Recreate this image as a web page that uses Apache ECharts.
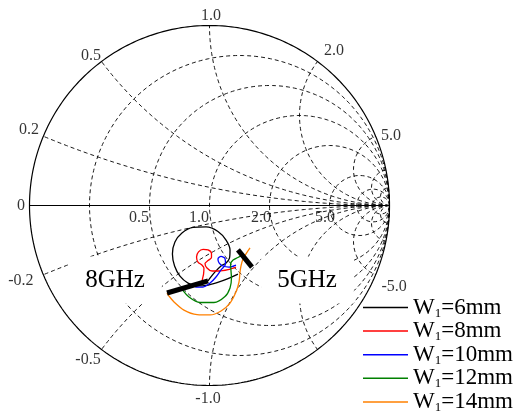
<!DOCTYPE html>
<html><head><meta charset="utf-8">
<script src="https://cdn.jsdelivr.net/npm/echarts@6/dist/echarts.min.js"></script>
<style>html,body{margin:0;padding:0;background:#fff}#c{width:515px;height:414px}</style>
</head><body><div id="c"></div>
<script>
// ---- data (reflection coefficient, [Re, Im]) ----
const widthsMm = [6, 8, 10, 12, 14];
const traceColors = ['#000000', '#ff0000', '#0000ff', '#008000', '#ff8000'];
const resistanceCircles = [0.2, 0.5, 1, 2, 5, 10, 20];
const reactanceArcs = [0.2, 0.5, 1, 2, 5, 10, 20];
const resistanceLabelValues = [0.5, 1, 2, 5];
const resistanceLabelTexts = ['0.5', '1.0', '2.0', '5.0'];
const reactanceLabelValues = [0.2, 0.5, 1, 2, 5, -0.2, -0.5, -1, -5];
const reactanceLabelTexts = ['0.2', '0.5', '1.0', '2.0', '5.0', '-0.2', '-0.5', '-1.0', '-5.0'];

const trace6mm = [[0.158,-0.381],[0.103,-0.406],[0.042,-0.428],[-0.019,-0.444],[-0.069,-0.447],[-0.119,-0.431],[-0.164,-0.392],[-0.194,-0.336],[-0.206,-0.269],[-0.192,-0.203],[-0.153,-0.153],[-0.092,-0.122],[-0.019,-0.119],[0.047,-0.144],[0.092,-0.192],[0.114,-0.247],[0.111,-0.292],[0.092,-0.319],[0.064,-0.336],[0.031,-0.369],[0.008,-0.397],[-0.008,-0.419]];
const trace8mm = [[0.147,-0.342],[0.103,-0.356],[0.053,-0.364],[0.014,-0.364],[-0.014,-0.347],[-0.025,-0.322],[-0.008,-0.306],[0.011,-0.289],[0.011,-0.267],[-0.008,-0.247],[-0.036,-0.244],[-0.061,-0.258],[-0.072,-0.286],[-0.064,-0.314],[-0.042,-0.331],[-0.031,-0.347],[-0.033,-0.381],[-0.039,-0.408],[-0.042,-0.431]];
const trace10mm = [[0.147,-0.331],[0.108,-0.342],[0.075,-0.336],[0.053,-0.319],[0.047,-0.297],[0.064,-0.283],[0.086,-0.294],[0.089,-0.325],[0.064,-0.358],[0.036,-0.397],[0.003,-0.431],[-0.036,-0.453],[-0.075,-0.453],[-0.092,-0.442]];
const trace12mm = [[0.192,-0.269],[0.158,-0.289],[0.131,-0.303],[0.117,-0.325],[0.119,-0.358],[0.122,-0.403],[0.114,-0.458],[0.086,-0.506],[0.025,-0.539],[-0.053,-0.539],[-0.114,-0.508],[-0.153,-0.464]];
const trace14mm = [[0.225,-0.236],[0.203,-0.269],[0.186,-0.297],[0.175,-0.336],[0.169,-0.375],[0.164,-0.425],[0.147,-0.481],[0.114,-0.542],[0.064,-0.586],[0.003,-0.608],[-0.069,-0.606],[-0.142,-0.581],[-0.197,-0.536],[-0.225,-0.503],[-0.236,-0.486]];
const traces = [trace6mm, trace8mm, trace10mm, trace12mm, trace14mm];
const marker8GHz = [[-0.236,-0.486],[-0.008,-0.419]];
const marker5GHz = [[0.158,-0.247],[0.236,-0.342]];

// ---- layout (label offsets in px) ----
const resistanceLabelOffsets = [[-10.5,12],[-10.5,12],[-8.5,12],[-4.5,12]];
const reactanceLabelOffsets = [[-14.4,-6.2],[-10.5,-5.5],[1.5,-9.5],[16.5,-10.5],[15.4,0],[-22.4,6.2],[-13.5,10.5],[-1.5,13.5],[18.4,12.2]];
const FONT = '"Liberation Serif", "Times New Roman", serif';

function resCircle(r) {
  const c = r / (1 + r), rho = 1 / (1 + r), pts = [];
  for (let i = 0; i <= 240; i++) { const t = 2 * Math.PI * i / 240; pts.push([c + rho * Math.cos(t), rho * Math.sin(t)]); }
  return pts;
}
function reactArc(x) {
  const ax = Math.abs(x), s = Math.sign(x);
  const a0 = -Math.PI / 2;
  let a1 = Math.atan2(ax * ax - 1, -2 * ax);
  if (a1 > a0) a1 -= 2 * Math.PI;
  const pts = [], n = 200;
  for (let i = 0; i <= n; i++) {
    const t = a0 + (a1 - a0) * i / n;
    pts.push([1 + Math.cos(t) / ax, s * (1 / ax + Math.sin(t) / ax)]);
  }
  return pts;
}
function unitCircle() {
  const pts = [];
  for (let i = 0; i <= 360; i++) { const t = 2 * Math.PI * i / 360; pts.push([Math.cos(t), Math.sin(t)]); }
  return pts;
}
const dash = { color: '#000', width: 0.9, type: [4, 3] };
const series = [];
function gridLine(data, style) {
  series.push({ type: 'line', data, showSymbol: false, symbol: 'none', silent: true, clip: false, z: 1, lineStyle: style, animation: false });
}
resistanceCircles.forEach(r => gridLine(resCircle(r), dash));
reactanceArcs.forEach(x => { gridLine(reactArc(x), dash); gridLine(reactArc(-x), dash); });
gridLine(unitCircle(), { color: '#000', width: 1.2 });
gridLine([[-1, 0], [1, 0]], { color: '#000', width: 1 });

// tick labels
const labelData = [];
resistanceLabelValues.forEach((r, i) => labelData.push({
  value: [(r - 1) / (r + 1), 0],
  label: { formatter: resistanceLabelTexts[i], offset: resistanceLabelOffsets[i] }
}));
reactanceLabelValues.forEach((x, i) => labelData.push({
  value: [(x * x - 1) / (x * x + 1), 2 * x / (x * x + 1)],
  label: { formatter: reactanceLabelTexts[i], offset: reactanceLabelOffsets[i] }
}));
labelData.push({ value: [-1, 0], label: { formatter: '0', offset: [-8.5, 0.5] } });
series.push({
  type: 'scatter', data: labelData, symbolSize: 1, silent: true, z: 2, animation: false,
  itemStyle: { color: 'rgba(0,0,0,0)' },
  label: { show: true, position: 'inside', color: '#000', fontFamily: FONT, fontSize: 16 }
});

traces.forEach((t, i) => series.push({
  name: 'W1=' + widthsMm[i] + 'mm', type: 'line', data: t, showSymbol: false, symbol: 'none',
  smooth: 0.3, clip: false, z: 3, animation: false, color: traceColors[i],
  lineStyle: { color: traceColors[i], width: 1.3 }
}));
[marker8GHz, marker5GHz].forEach(m => series.push({
  type: 'line', data: m, showSymbol: false, symbol: 'none', clip: false, z: 4, animation: false, silent: true,
  lineStyle: { color: '#000', width: 5, cap: 'butt' }
}));

const chart = echarts.init(document.getElementById('c'), null, { renderer: 'canvas' });
chart.setOption({
  animation: false,
  backgroundColor: '#fff',
  grid: { left: 29.5, top: 25.5, width: 360, height: 360 },
  xAxis: { type: 'value', min: -1, max: 1, show: false },
  yAxis: { type: 'value', min: -1, max: 1, show: false },
  legend: {
    orient: 'vertical', left: 363, top: 296, padding: 0, itemGap: 0,
    itemWidth: 45, itemHeight: 1.5, icon: 'rect',
    itemStyle: { borderWidth: 0 },
    data: widthsMm.map(w => 'W1=' + w + 'mm'),
    formatter: n => '{a|W}{b|1}{a|' + n.slice(2) + '}',
    textStyle: {
      color: '#000', fontFamily: FONT, fontSize: 23,
      rich: {
        a: { fontFamily: FONT, fontSize: 23, lineHeight: 24.2, color: '#000' },
        b: { fontFamily: FONT, fontSize: 13, lineHeight: 13, verticalAlign: 'bottom', color: '#000' }
      }
    }
  },
  graphic: [
    { type: 'text', z: 2, silent: true, style: { text: '8GHz', x: 115, y: 280, align: 'center', verticalAlign: 'middle', font: '25px ' + FONT, fill: '#000', backgroundColor: '#fff', padding: [14, 17, 8, 17] } },
    { type: 'text', z: 2, silent: true, style: { text: '5GHz', x: 307.5, y: 280, align: 'center', verticalAlign: 'middle', font: '25px ' + FONT, fill: '#000', backgroundColor: '#fff', padding: [14, 17, 8, 16] } }
  ],
  series
});
</script></body></html>
